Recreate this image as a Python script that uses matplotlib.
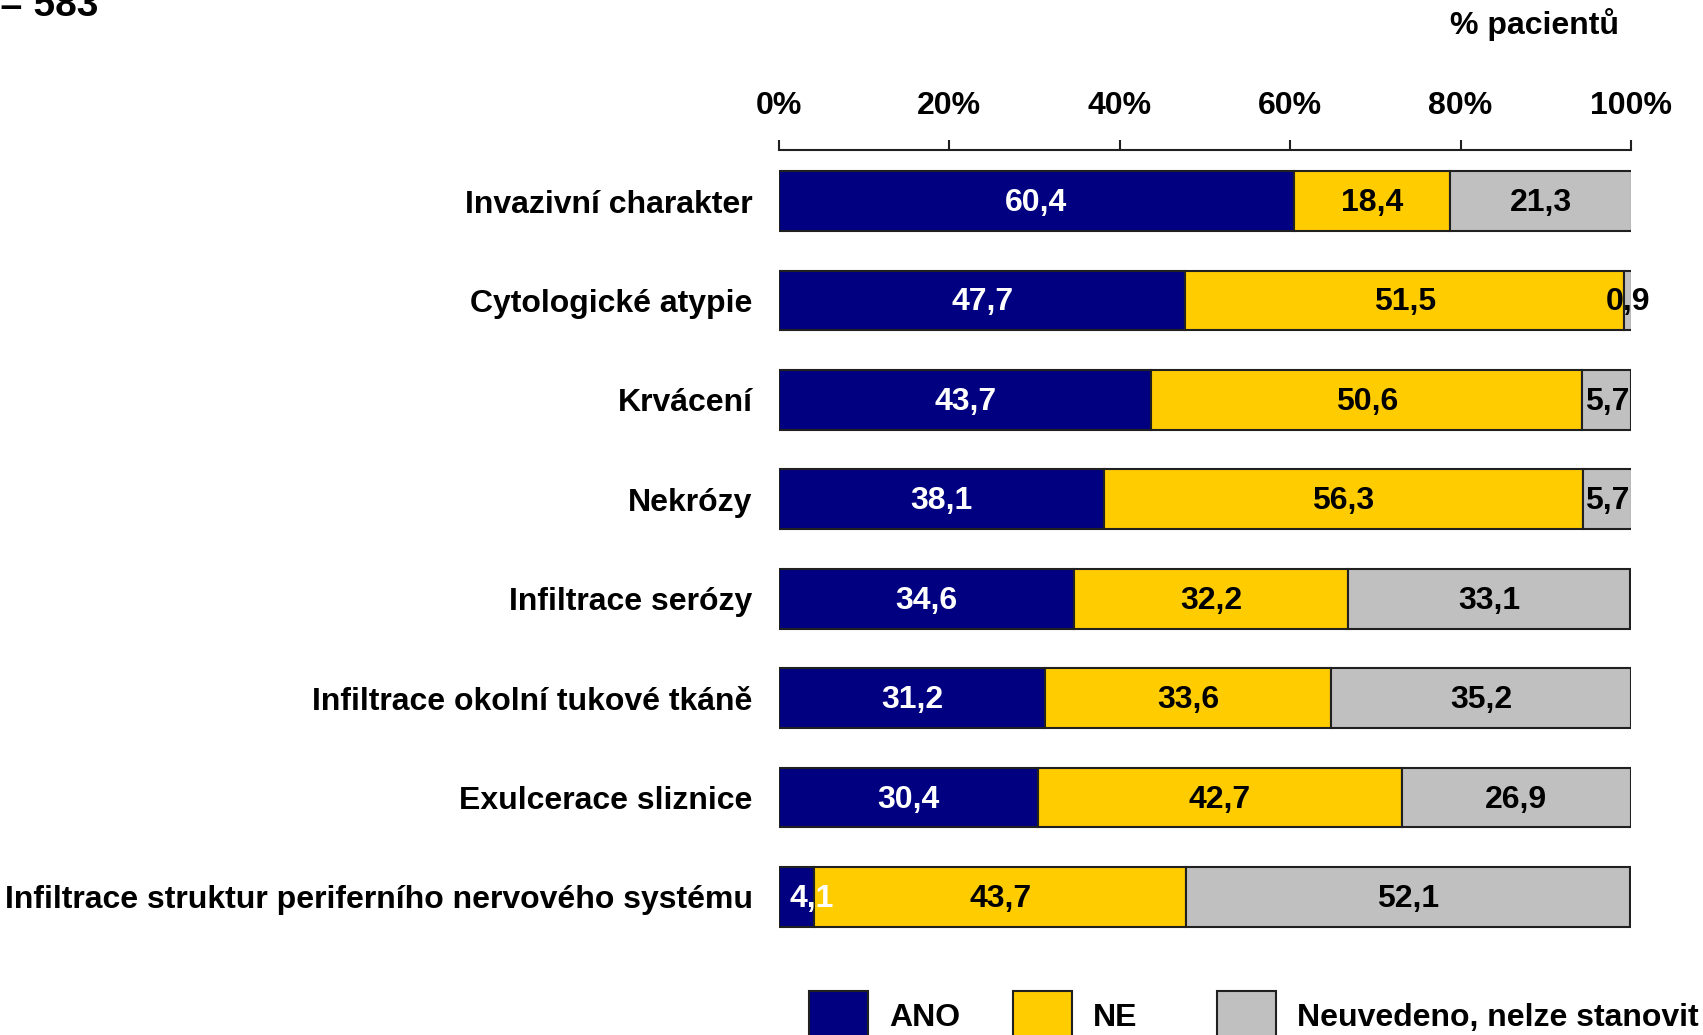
import matplotlib
matplotlib.use("Agg")
import matplotlib.pyplot as plt
from matplotlib.patches import Patch

plt.rcParams['font.family'] = ['Liberation Sans', 'DejaVu Sans']
plt.rcParams['font.weight'] = 'bold'

categories = [
    "Invazivní charakter",
    "Cytologické atypie",
    "Krvácení",
    "Nekrózy",
    "Infiltrace serózy",
    "Infiltrace okolní tukové tkáně",
    "Exulcerace sliznice",
    "Infiltrace struktur periferního nervového systému",
]
ano = [60.4, 47.7, 43.7, 38.1, 34.6, 31.2, 30.4, 4.1]
ne = [18.4, 51.5, 50.6, 56.3, 32.2, 33.6, 42.7, 43.7]
neuvedeno = [21.3, 0.9, 5.7, 5.7, 33.1, 35.2, 26.9, 52.1]
series_names = ["ANO", "NE", "Neuvedeno, nelze stanovit"]
colors = ["#000080", "#FFCC00", "#C0C0C0"]
text_colors = ["white", "black", "black"]
xticks = [0, 20, 40, 60, 80, 100]
xticklabels = ["0%", "20%", "40%", "60%", "80%", "100%"]

FS = 23
W, H = 1703, 1035
fig = plt.figure(figsize=(W / 100, H / 100), dpi=100)
ax_left = 779 / W
ax_right = 1631 / W
spacing = (897 - 201) / 7
top_px = 201 - spacing / 2
bot_px = 897 + spacing / 2
ax = fig.add_axes([ax_left, 1 - bot_px / H, ax_right - ax_left, (bot_px - top_px) / H])

n = len(categories)
ypos = list(range(n))
series = [ano, ne, neuvedeno]
left = [0.0] * n
for vals, c, tc, name in zip(series, colors, text_colors, series_names):
    ax.barh(ypos, vals, left=left, height=0.6, color=c, edgecolor="#202020",
            linewidth=1.5, label=name)
    for i, v in enumerate(vals):
        txt = f"{v:.1f}".replace(".", ",")
        if left[i] == 0 and v < 5:
            ax.text(1.2, i + 0.02, txt, ha="left", va="center", color=tc,
                    fontsize=FS, fontweight="bold")
        else:
            ax.text(left[i] + v / 2, i + 0.02, txt, ha="center",
                    va="center", color=tc, fontsize=FS, fontweight="bold")
    left = [l + v for l, v in zip(left, vals)]

ax.set_xlim(0, 100)
ax.set_ylim(n - 0.5, -0.5)
ax.set_yticks(ypos)
ax.set_yticklabels(categories)
ax.tick_params(axis="y", length=0, pad=19, labelsize=FS)
ax.xaxis.set_ticks_position("top")
ax.set_xticks(xticks)
ax.set_xticklabels(xticklabels)
ax.tick_params(axis="x", direction="out", length=7, width=1.5, pad=14, color="#202020",
               labelsize=FS, labeltop=True, labelbottom=False)
for lab in ax.get_xticklabels() + ax.get_yticklabels():
    lab.set_fontweight("bold")
for s in ["left", "right", "bottom"]:
    ax.spines[s].set_visible(False)
ax.spines["top"].set_linewidth(1.5)
ax.spines["top"].set_color("#202020")
ax.spines["top"].set_position(("axes", 1 + (top_px - 150) / (bot_px - top_px)))

fig.text(1535 / W, 1 - 25 / H, "% pacientů", ha="center", va="center",
         fontsize=FS, fontweight="bold")
fig.text(0, 1 - 16 / H, "= 583", ha="left", va="baseline", fontsize=28, fontweight="bold")

legend_x = [809, 1013, 1217]
for name, c, lx in zip(series_names, colors, legend_x):
    h = Patch(facecolor=c, edgecolor="#202020", linewidth=1.5)
    fig.legend([h], [name], loc="center left", bbox_to_anchor=(lx / W, 1 - 1016 / H),
               frameon=False, fontsize=FS, handlelength=1.85, handleheight=2.0,
               handletextpad=0.65, borderpad=0, borderaxespad=0)

fig.savefig("out.png", dpi=100)
